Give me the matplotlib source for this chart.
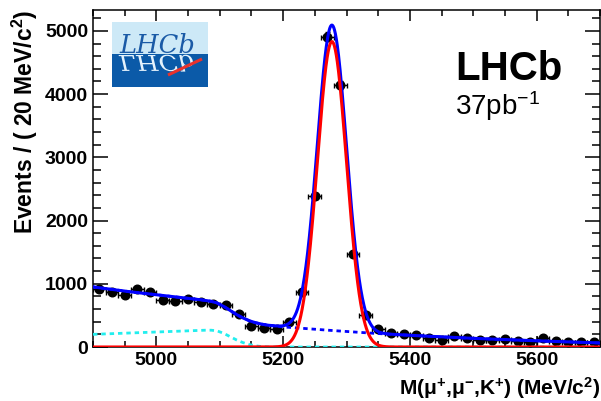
import numpy as np
import matplotlib
matplotlib.use('Agg')
import matplotlib.pyplot as plt
from matplotlib.textpath import TextPath
from matplotlib.patches import PathPatch, Rectangle
from matplotlib.font_manager import FontProperties
from matplotlib.transforms import Affine2D
from matplotlib.ticker import MultipleLocator

# ---------------- data ----------------
mass = [4910, 4930, 4950, 4970, 4990, 5010, 5030, 5050, 5070, 5090,
        5110, 5130, 5150, 5170, 5190, 5210, 5230, 5250, 5270, 5290,
        5310, 5330, 5350, 5370, 5390, 5410, 5430, 5450, 5470, 5490,
        5510, 5530, 5550, 5570, 5590, 5610, 5630, 5650, 5670, 5690]
counts = [920, 865, 825, 918, 865, 744, 723, 755, 717, 685,
          665, 522, 332, 296, 285, 400, 875, 2394, 4910, 4141,
          1472, 506, 280, 217, 208, 192, 137, 110, 170, 137,
          108, 108, 122, 90, 80, 140, 90, 78, 85, 79]
bin_half_width = 10

# fitted signal peak (red)
sig_mean = 5277.0
sig_sigma = 23.0
sig_peak = 4830.0

# combinatorial background shape (read at sample masses)
comb_mass = [4900, 4950, 5000, 5050, 5100, 5150, 5200, 5250, 5300, 5350,
             5400, 5450, 5500, 5550, 5600, 5650, 5700]
comb_vals = [750, 665, 590, 515, 435, 373, 318, 280, 245, 212,
             185, 160, 137, 117, 98, 80, 64]

# partially reconstructed background (cyan)
pr_mass = [4900, 4950, 5000, 5050, 5070, 5085, 5095, 5105, 5115, 5125,
           5135, 5145, 5155, 5165, 5175, 5700]
pr_vals = [200, 218, 237, 255, 264, 267, 258, 222, 170, 118,
           75, 42, 20, 7, 0, 0]

x_range = (4900, 5700)
y_range = (0, 5330)

# ---------------- style ----------------
plt.rcParams['font.family'] = ['Liberation Sans', 'DejaVu Sans']
plt.rcParams['mathtext.default'] = 'regular'

fig = plt.figure(figsize=(6.01, 4.01), dpi=100)
W, H = 601, 401
ax = fig.add_axes([93 / W, 1 - 347 / H, 507 / W, 337 / H])

# data points
ax.errorbar(mass, counts, xerr=bin_half_width, yerr=np.sqrt(counts),
            fmt='o', color='black', ms=6.2, elinewidth=1.0, capsize=1.8,
            capthick=1.0, zorder=2)

# curves
m = np.linspace(x_range[0], x_range[1], 1601)
comb = np.interp(m, comb_mass, comb_vals)
pr = np.interp(m, pr_mass, pr_vals)
bkg = comb + pr
sig = sig_peak * np.exp(-0.5 * ((m - sig_mean) / sig_sigma) ** 2)
total = bkg + sig

ax.plot(m, bkg, color='#0000ff', lw=2.0, ls=(0, (1.6, 1.4)), zorder=3)
ax.plot(m, pr, color='#22eeee', lw=2.0, ls=(0, (1.6, 1.4)), zorder=3)
ax.plot(m, total, color='#0000ff', lw=2.2, zorder=4)
ax.plot(m, sig, color='#ff0000', lw=2.2, zorder=5)

ax.set_xlim(*x_range)
ax.set_ylim(*y_range)

ax.xaxis.set_major_locator(MultipleLocator(200))
ax.xaxis.set_minor_locator(MultipleLocator(50))
ax.yaxis.set_major_locator(MultipleLocator(1000))
ax.yaxis.set_minor_locator(MultipleLocator(200))

ax.tick_params(which='both', direction='in', top=True, right=True, width=1.1)
ax.tick_params(axis='x', which='major', length=8, pad=3.5)
ax.tick_params(axis='x', which='minor', length=4)
ax.tick_params(axis='y', which='major', length=10.5, pad=3.5)
ax.tick_params(axis='y', which='minor', length=5.5)
for lab in ax.get_xticklabels() + ax.get_yticklabels():
    lab.set_fontweight('bold')
    lab.set_fontsize(14)
for sp in ax.spines.values():
    sp.set_linewidth(1.1)

ax.set_xlabel('M(μ$^{+}$,μ$^{-}$,K$^{+}$) (MeV/c$^{2}$)', fontsize=15,
              fontweight='bold', loc='right')
ax.xaxis.set_label_coords(1.0, -0.083)
ax.set_ylabel('Events / ( 20 MeV/c$^{2}$)', fontsize=16.5,
              fontweight='bold', loc='top')
ax.yaxis.set_label_coords(-0.105, 1.0)

# LHCb label
ax.text(455 / W, 1 - 80 / H, 'LHCb', transform=fig.transFigure,
        fontsize=29, fontweight='bold', ha='left', va='baseline')
ax.text(455 / W, 1 - 115 / H, '37pb$^{-1}$', transform=fig.transFigure,
        fontsize=20, ha='left', va='baseline')

# ---------------- logo ----------------
lax = fig.add_axes([112 / W, 1 - 87 / H, 96 / W, 65 / H])
lax.set_xlim(0, 96)
lax.set_ylim(0, 65)
lax.axis('off')
split = 33
lax.add_patch(Rectangle((0, split), 96, 65 - split, color='#cde9f7', lw=0))
lax.add_patch(Rectangle((0, 0), 96, split, color='#0b5aa8', lw=0))
logo_fs = 18.5
fp = FontProperties(family='DejaVu Serif', style='italic')
lax.text(7, split + 1, 'LHCb', fontproperties=fp, fontsize=logo_fs,
         color='#1a5aa6', ha='left', va='baseline')
tp = TextPath((0, 0), 'LHCb', size=logo_fs * 100 / 72, prop=fp)
tr = Affine2D().scale(1, -0.85).translate(7, split - 1)
lax.add_patch(PathPatch(tr.transform_path(tp), facecolor='#e4f2fc',
                        edgecolor='none'))
lax.plot([56, 90], [12, 28], color='#e8322c', lw=2.2, solid_capstyle='butt')

fig.savefig('out.png', dpi=100)
